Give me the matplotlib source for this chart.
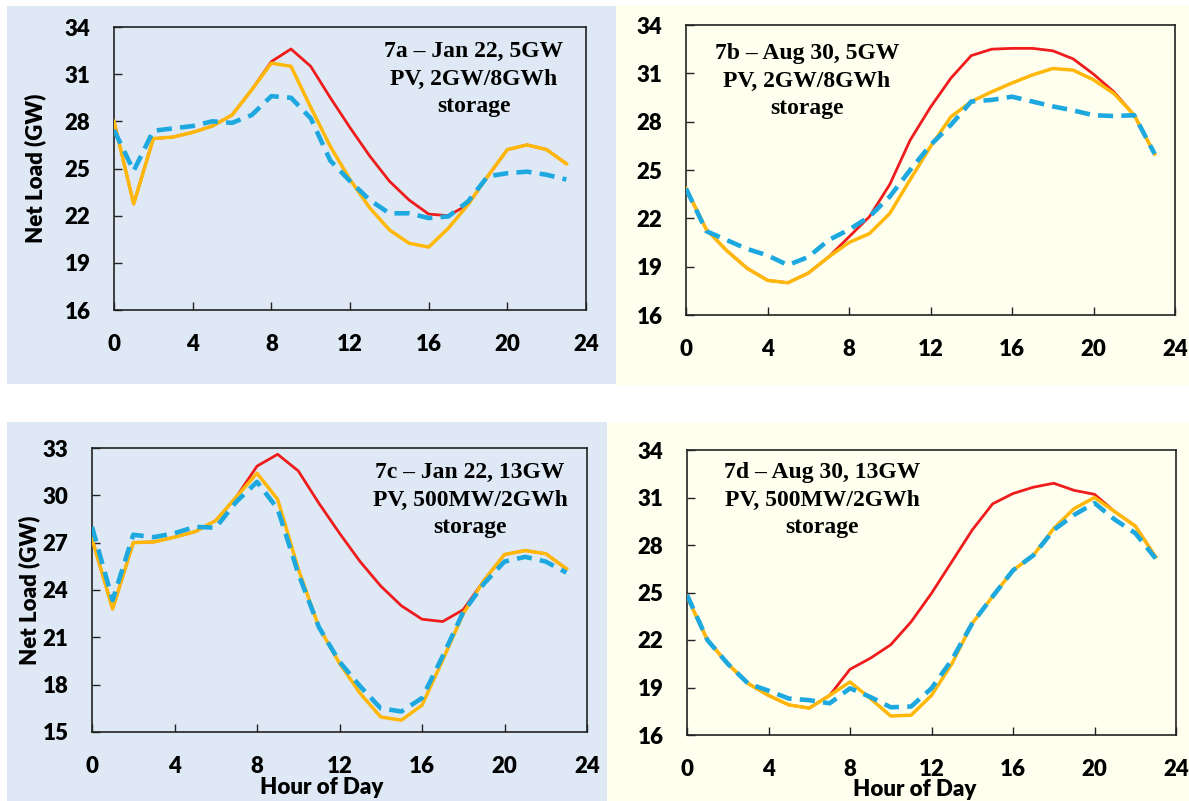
import matplotlib
matplotlib.use("Agg")
import matplotlib.pyplot as plt
from matplotlib.patches import Rectangle

W, H = 1189, 801

hours = list(range(24))

# 7a - Jan 22, 5GW PV, 2GW/8GWh storage
a_net = [28.0, 22.75, 26.9, 27.0, 27.3, 27.7, 28.4, 30.0, 31.8, 32.6, 31.5, 29.5,
         27.6, 25.8, 24.2, 23.0, 22.1, 22.0, 22.7, 24.5, 26.2, 26.5, 26.2, 25.3]
a_pv = [28.0, 22.75, 26.9, 27.0, 27.3, 27.7, 28.4, 30.0, 31.7, 31.5, 28.9, 26.4,
        24.3, 22.5, 21.1, 20.25, 20.0, 21.2, 22.7, 24.5, 26.2, 26.5, 26.2, 25.3]
a_stor = [27.45, 24.85, 27.4, 27.55, 27.7, 28.0, 27.9, 28.4, 29.6, 29.5, 28.2, 25.5,
          24.2, 23.0, 22.15, 22.15, 21.85, 21.95, 22.9, 24.5, 24.7, 24.8, 24.6, 24.3]

# 7b - Aug 30, 5GW PV, 2GW/8GWh storage
b_net = [23.85, 21.3, 20.0, 18.9, 18.15, 18.0, 18.6, 19.6, 20.85, 22.1, 24.1, 26.85,
         28.9, 30.7, 32.1, 32.5, 32.55, 32.55, 32.4, 31.9, 30.95, 29.85, 28.4, 26.0]
b_pv = [23.85, 21.3, 20.0, 18.9, 18.15, 18.0, 18.6, 19.6, 20.5, 21.05, 22.3, 24.4,
        26.45, 28.3, 29.25, 29.85, 30.4, 30.9, 31.3, 31.2, 30.6, 29.75, 28.4, 26.0]
b_stor = [23.85, 21.2, 20.65, 20.1, 19.7, 19.1, 19.6, 20.65, 21.3, 22.1, 23.35, 25.0,
          26.55, 27.8, 29.25, 29.35, 29.55, 29.25, 28.95, 28.7, 28.4, 28.35, 28.4, 26.0]

# 7c - Jan 22, 13GW PV, 500MW/2GWh storage
c_net = [27.25, 22.8, 27.0, 27.05, 27.35, 27.7, 28.4, 29.9, 31.85, 32.6, 31.55, 29.5,
         27.6, 25.8, 24.25, 23.0, 22.15, 22.0, 22.75, 24.6, 26.25, 26.5, 26.3, 25.35]
c_pv = [27.25, 22.8, 27.0, 27.05, 27.35, 27.7, 28.4, 29.9, 31.4, 29.75, 25.35, 21.65,
        19.35, 17.45, 15.95, 15.75, 16.7, 19.55, 22.5, 24.6, 26.25, 26.5, 26.3, 25.35]
c_stor = [28.0, 23.35, 27.5, 27.35, 27.6, 28.0, 27.95, 29.6, 30.85, 29.15, 25.05, 21.65,
          19.45, 17.9, 16.5, 16.3, 17.15, 19.8, 22.6, 24.4, 25.8, 26.1, 25.8, 25.1]

# 7d - Aug 30, 13GW PV, 500MW/2GWh storage
d_net = [24.75, 22.0, 20.5, 19.25, 18.5, 17.9, 17.7, 18.5, 20.15, 20.85, 21.7, 23.15,
         24.95, 26.95, 28.95, 30.6, 31.25, 31.65, 31.9, 31.45, 31.2, 30.1, 29.2, 27.25]
d_pv = [24.75, 22.0, 20.5, 19.25, 18.5, 17.9, 17.7, 18.5, 19.35, 18.3, 17.2, 17.25,
        18.5, 20.5, 23.05, 24.75, 26.4, 27.35, 29.05, 30.3, 31.0, 30.1, 29.2, 27.25]
d_stor = [24.85, 22.0, 20.5, 19.25, 18.8, 18.3, 18.2, 18.0, 18.95, 18.4, 17.75, 17.8,
          18.95, 20.75, 23.05, 24.75, 26.4, 27.35, 28.95, 29.9, 30.65, 29.6, 28.75, 27.15]

x_ticks = [0, 4, 8, 12, 16, 20, 24]
ticks_16_34 = [16, 19, 22, 25, 28, 31, 34]
ticks_15_33 = [15, 18, 21, 24, 27, 30, 33]

captions = ["7a \u2013 Jan 22, 5GW\nPV, 2GW/8GWh\nstorage",
            "7b \u2013 Aug 30, 5GW\nPV, 2GW/8GWh\nstorage",
            "7c \u2013 Jan 22, 13GW\nPV, 500MW/2GWh\nstorage",
            "7d \u2013 Aug 30, 13GW\nPV, 500MW/2GWh\nstorage"]

BLUE_BG = "#DEE9F5"
CREAM_BG = "#FFFFF0"
RED = "#EE1C1C"
GOLD = "#FFB80A"
CYAN = "#1DA9E0"
SANS = "Lato"
SERIF = "Liberation Serif"


def box(x0, y0, x1, y1):
    # pixel box (top-left origin) -> figure fraction rect
    return [x0 / W, 1 - y1 / H, (x1 - x0) / W, (y1 - y0) / H]


def panel(fig, rect, net, pv, stor, yticks, caption, cap_xy, ylabel_x=None, xlabel_xy=None):
    ax = fig.add_axes(box(*rect))
    ax.patch.set_alpha(0)
    ax.plot(hours, net, color=RED, lw=2.0, zorder=2)
    ax.plot(hours, pv, color=GOLD, lw=2.5, zorder=3)
    ax.plot(hours, stor, color=CYAN, lw=3.3, dashes=(3.3, 1.8), zorder=4)
    ax.set_xlim(0, 24)
    ax.set_ylim(yticks[0], yticks[-1])
    ax.set_xticks(x_ticks)
    ax.set_yticks(yticks)
    ax.tick_params(direction="in", length=6, width=1.0, pad=17, color="#222222",
                   labelsize=16)
    for lab in ax.get_xticklabels() + ax.get_yticklabels():
        lab.set_fontfamily(SANS)
        lab.set_fontweight("heavy")
    for s in ax.spines.values():
        s.set_linewidth(1.2)
        s.set_color("#222222")
    if ylabel_x is not None:
        ax.set_ylabel("Net Load (GW)", fontsize=16, fontweight="heavy", family=SANS)
        ax.yaxis.set_label_coords(ylabel_x, 0.5)
    if xlabel_xy:
        fig.text(xlabel_xy[0] / W, 1 - xlabel_xy[1] / H, "Hour of Day", fontsize=16,
                 fontweight="heavy", family=SANS, ha="center", va="center")
    fig.text(cap_xy[0] / W, 1 - cap_xy[1] / H, caption, fontsize=17, fontweight="bold",
             family=SERIF, ha="center", va="center", linespacing=1.42)
    return ax


fig = plt.figure(figsize=(W / 100, H / 100), dpi=100)

# panel backgrounds, kept underneath the axes
for (x0, y0, x1, y1), c in [((7, 6, 616, 384), BLUE_BG), ((616, 5, 1189, 386), CREAM_BG),
                            ((7, 422, 607, 801), BLUE_BG), ((607, 423, 1189, 801), CREAM_BG)]:
    fig.patches.append(Rectangle((x0 / W, 1 - y1 / H), (x1 - x0) / W, (y1 - y0) / H,
                                 transform=fig.transFigure, facecolor=c, edgecolor="none",
                                 zorder=-10))

panel(fig, (114, 27, 586, 310), a_net, a_pv, a_stor, ticks_16_34, captions[0], (474, 79),
      ylabel_x=-0.144)
panel(fig, (686, 25, 1175, 315), b_net, b_pv, b_stor, ticks_16_34, captions[1], (807, 81))
panel(fig, (92, 448, 587, 732), c_net, c_pv, c_stor, ticks_15_33, captions[2], (470, 500),
      ylabel_x=-0.105, xlabel_xy=(322, 788))
panel(fig, (687, 450, 1176, 735), d_net, d_pv, d_stor, ticks_16_34, captions[3], (822, 500),
      xlabel_xy=(915, 790))

fig.savefig("out.png", dpi=100)
